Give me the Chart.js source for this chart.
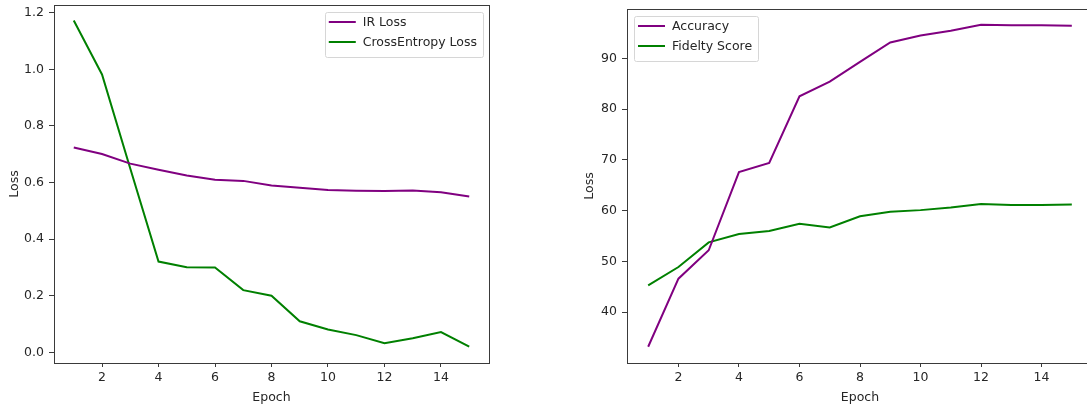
<!DOCTYPE html>
<html>
<head>
<meta charset="utf-8">
<script src="https://cdn.jsdelivr.net/npm/chart.js@4.4.0/dist/chart.umd.min.js"></script>
<style>
  html, body { margin: 0; padding: 0; background: #fff; overflow: hidden; width: 1087px; height: 410px; }
  body { position: relative; }
  .panel { position: absolute; top: 0; height: 410px; overflow: hidden; }
  #leftPanel { left: 0; width: 500px; }
  #rightPanel { left: 560px; width: 527px; }
  canvas { display: block; }
</style>
</head>
<body>
<div class="panel" id="leftPanel"><canvas id="lossChart" width="500" height="410"></canvas></div>
<div class="panel" id="rightPanel"><canvas id="accChart" width="545" height="410"></canvas></div>
<script>
// values
const epochs = [1, 2, 3, 4, 5, 6, 7, 8, 9, 10, 11, 12, 13, 14, 15];
const irLoss = [0.724, 0.701, 0.667, 0.645, 0.625, 0.610, 0.606, 0.590, 0.582, 0.574, 0.571, 0.570, 0.572, 0.566, 0.551];
const crossEntropyLoss = [1.173, 0.982, 0.650, 0.321, 0.301, 0.300, 0.220, 0.200, 0.110, 0.081, 0.061, 0.032, 0.050, 0.072, 0.020];
const accuracy = [33.2, 46.6, 52.2, 67.6, 69.4, 82.5, 85.4, 89.3, 93.1, 94.5, 95.4, 96.6, 96.5, 96.5, 96.4];
const fidelityScore = [45.3, 48.9, 53.75, 55.4, 56.0, 57.4, 56.7, 58.9, 59.8, 60.1, 60.6, 61.3, 61.1, 61.1, 61.2];

const xTicks = [2, 4, 6, 8, 10, 12, 14];
const lossTicks = [0.0, 0.2, 0.4, 0.6, 0.8, 1.0, 1.2];
const accTicks = [40, 50, 60, 70, 80, 90];

const FONT = "'DejaVu Sans', sans-serif";
const TEXT = '#262626';
const SPINE = '#3a3a3a';

function pts(ys) {
    return epochs.map((e, i) => ({ x: e, y: ys[i] }));
}

// axes frame on all four sides, like the original
const framePlugin = {
    id: 'frame',
    afterDatasetsDraw(chart) {
        const { ctx, chartArea: a } = chart;
        ctx.save();
        ctx.strokeStyle = SPINE;
        ctx.lineWidth = 1;
        ctx.strokeRect(Math.round(a.left) + 0.5, Math.round(a.top) + 0.5,
            Math.round(a.right - a.left), Math.round(a.bottom - a.top));
        ctx.restore();
    }
};

// legend drawn inside the axes, in a corner
const innerLegend = {
    id: 'innerLegend',
    afterDraw(chart, args, opts) {
        const { ctx, chartArea: a } = chart;
        const sets = chart.data.datasets;
        ctx.save();
        ctx.font = '12.5px ' + FONT;
        const textW = Math.max(...sets.map(d => ctx.measureText(d.label).width));
        const w = 4 + 27 + 7 + textW + 6;
        const h = 45;
        const x = opts.corner === 'right' ? a.right - 6 - w : a.left + 7;
        const y = a.top + 7;
        ctx.fillStyle = 'rgba(255,255,255,0.8)';
        ctx.strokeStyle = '#d6d6d6';
        ctx.lineWidth = 1;
        ctx.beginPath();
        ctx.roundRect(Math.round(x) + 0.5, Math.round(y) + 0.5, Math.round(w), h, 2);
        ctx.fill();
        ctx.stroke();
        sets.forEach((d, i) => {
            const ry = y + 10 + i * 20;
            ctx.strokeStyle = d.borderColor;
            ctx.lineWidth = 2;
            ctx.beginPath();
            ctx.moveTo(x + 4, ry);
            ctx.lineTo(x + 31, ry);
            ctx.stroke();
            ctx.fillStyle = TEXT;
            ctx.textBaseline = 'middle';
            ctx.fillText(d.label, x + 38, ry + 0.5);
        });
        ctx.restore();
    }
};

function makeChart(id, series, yMin, yMax, yTicks, yFmt, yWidth, yTitlePad, padTop, padRight, corner) {
    return new Chart(document.getElementById(id), {
        type: 'line',
        data: {
            datasets: series.map(s => ({
                label: s.label,
                data: pts(s.values),
                borderColor: s.color,
                backgroundColor: s.color,
                borderWidth: 2,
                pointRadius: 0,
                tension: 0,
                fill: false
            }))
        },
        options: {
            responsive: false,
            animation: false,
            events: [],
            layout: { padding: { top: padTop, right: padRight, left: 0, bottom: 0 } },
            plugins: {
                legend: { display: false },
                tooltip: { enabled: false },
                innerLegend: { corner: corner }
            },
            scales: {
                x: {
                    type: 'linear',
                    min: 0.3,
                    max: 15.7,
                    afterBuildTicks: s => { s.ticks = xTicks.map(v => ({ value: v })); },
                    afterFit: s => { s.height = 47; s.paddingLeft = 0; s.paddingRight = 0; },
                    grid: { drawOnChartArea: false, drawTicks: true, tickLength: 4, tickColor: SPINE },
                    border: { display: false },
                    ticks: { color: TEXT, font: { family: FONT, size: 12.5 }, padding: 3, maxRotation: 0 },
                    title: { display: true, text: 'Epoch', color: TEXT, font: { family: FONT, size: 12.5 }, padding: { top: 0, bottom: 5 } }
                },
                y: {
                    type: 'linear',
                    min: yMin,
                    max: yMax,
                    afterBuildTicks: s => { s.ticks = yTicks.map(v => ({ value: v })); },
                    afterFit: s => { s.width = yWidth; s.paddingTop = 0; s.paddingBottom = 0; },
                    grid: { drawOnChartArea: false, drawTicks: true, tickLength: 5, tickColor: SPINE },
                    border: { display: false },
                    ticks: { color: TEXT, font: { family: FONT, size: 12.5 }, padding: 5, callback: yFmt },
                    title: { display: true, text: 'Loss', color: TEXT, font: { family: FONT, size: 12.5 }, padding: { top: yTitlePad, bottom: 0 } }
                }
            }
        },
        plugins: [framePlugin, innerLegend]
    });
}

makeChart('lossChart', [
    { label: 'IR Loss', values: irLoss, color: '#800080' },
    { label: 'CrossEntropy Loss', values: crossEntropyLoss, color: '#008000' }
], -0.0375, 1.2275, lossTicks, v => Number(v).toFixed(1), 54, 7.5, 5, 11, 'right');

makeChart('accChart', [
    { label: 'Accuracy', values: accuracy, color: '#800080' },
    { label: 'Fidelty Score', values: fidelityScore, color: '#008000' }
], 30.0, 99.7, accTicks, v => String(v), 67, 21.8, 9, 12, 'left');
</script>
</body>
</html>
